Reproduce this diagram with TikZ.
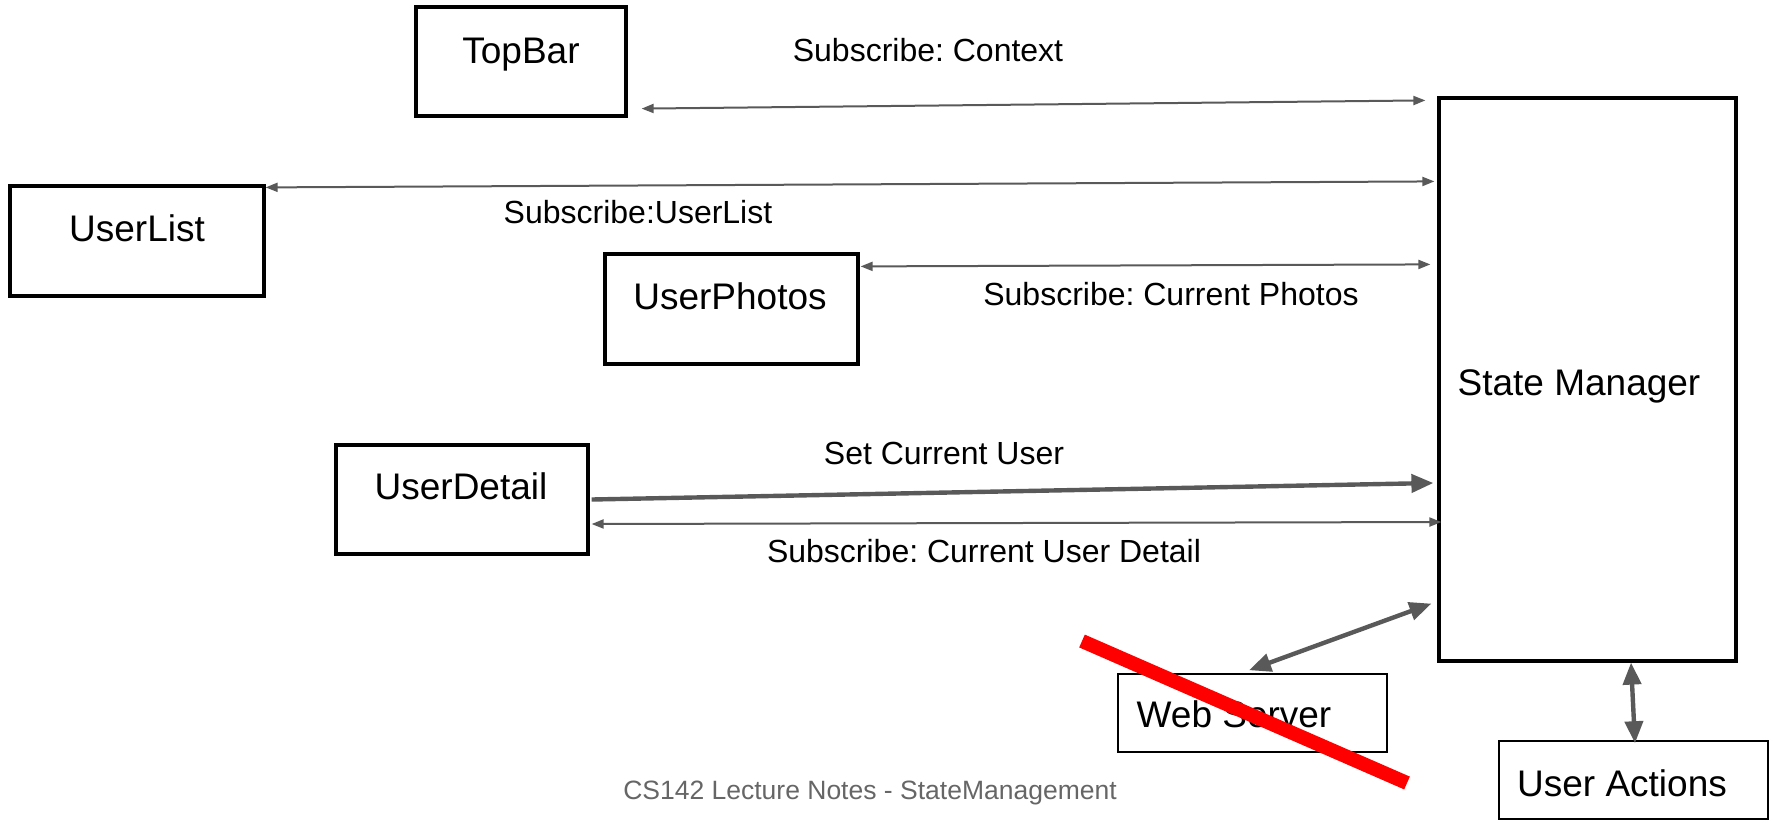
\documentclass[tikz,border=0pt]{standalone}
\usepackage{fontspec}
\setmainfont{Liberation Sans}
\usetikzlibrary{arrows.meta}
\definecolor{linkgray}{HTML}{595959}
\definecolor{notegray}{HTML}{666666}
\definecolor{strikered}{HTML}{FF0000}
\frenchspacing

\begin{document}
\begin{tikzpicture}[x=0.5pt,y=-0.5pt,
  frame/.style={draw=black, line width=1.6pt, inner sep=0pt},
  lightframe/.style={draw=black, line width=0.8pt, inner sep=0pt},
  name text/.style={font=\fontsize{18.5}{22}\selectfont, anchor=base, inner sep=0pt},
  link text/.style={font=\fontsize{16}{19}\selectfont, anchor=base, inner sep=0pt},
  note text/.style={font=\fontsize{13.25}{16}\selectfont, text=notegray, anchor=base, inner sep=0pt},
  sub/.style={draw=linkgray, line width=1pt,
    {Triangle[length=6pt,width=4.5pt]}-{Triangle[length=6pt,width=4.5pt]}},
  push/.style={draw=linkgray, line width=2.2pt, -{Triangle[length=11pt,width=9pt]}},
  sync/.style={draw=linkgray, line width=2.2pt,
    {Triangle[length=11pt,width=9pt]}-{Triangle[length=11pt,width=9pt]}},
  strike/.style={draw=strikered, line width=7pt, line cap=butt},
]
\useasboundingbox (0,0) rectangle (1772,821);

% components
\node[frame, minimum width=105pt, minimum height=54.5pt] (tb) at (521,61.5) {};
\node[name text] (tbt) at (521,63) {TopBar};

\node[frame, minimum width=148.5pt, minimum height=281.5pt] (sm) at (1587.5,379.5) {};
\node[name text] (smt) at (1579,395) {State Manager};

\node[frame, minimum width=127pt, minimum height=55pt] (ul) at (137,241) {};
\node[name text] (ult) at (137,241) {UserList};

\node[frame, minimum width=126.5pt, minimum height=55pt] (up) at (731.5,309) {};
\node[name text] (upt) at (730,309) {UserPhotos};

\node[frame, minimum width=126pt, minimum height=54.5pt] (ud) at (462,499.5) {};
\node[name text] (udt) at (461,499) {UserDetail};

\node[lightframe, minimum width=134.5pt, minimum height=39pt] (ws) at (1252.5,713) {};
\node[name text] (wst) at (1234,727) {Web Server};

\node[lightframe, minimum width=134.5pt, minimum height=39pt] (ua) at (1633.5,780) {};
\node[name text] (uat) at (1622,796) {User Actions};

% subscriptions and updates
\draw[sub] ([shift={(14,-9)}]tb.south east) -- ([shift={(-12,4)}]sm.north west);
\node[link text] (l1) at (928,61) {Subscribe: Context};

\draw[sub] ([shift={(0,3)}]ul.north east) -- ([shift={(-3,85)}]sm.north west);
\node[link text] (l2) at (638,223) {Subscribe:UserList};

\draw[sub] ([shift={(1,14)}]up.north east) -- ([shift={(-7,168)}]sm.north west);
\node[link text] (l3) at (1171,305) {Subscribe: Current Photos};

\draw[push] ([shift={(2,0)}]ud.east) -- ([shift={(-4,103.5)}]sm.west);
\node[link text] (l4) at (944,464) {Set Current User};

\draw[sub] ([shift={(2,24.5)}]ud.east) -- ([shift={(4,142.5)}]sm.west);
\node[link text] (l5) at (984,562) {Subscribe: Current User Detail};

\draw[sync] ([shift={(-3.5,-3)}]ws.north) -- ([shift={(-6,-59)}]sm.south west);
\draw[sync] ([shift={(1.5,3)}]ua.north) -- ([shift={(43.5,0)}]sm.south);

% crossed-out web server
\draw[strike] (1082,641) -- (1407,783);

\node[note text] (footer) at (870,799) {CS142 Lecture Notes - StateManagement};
\end{tikzpicture}
\end{document}
